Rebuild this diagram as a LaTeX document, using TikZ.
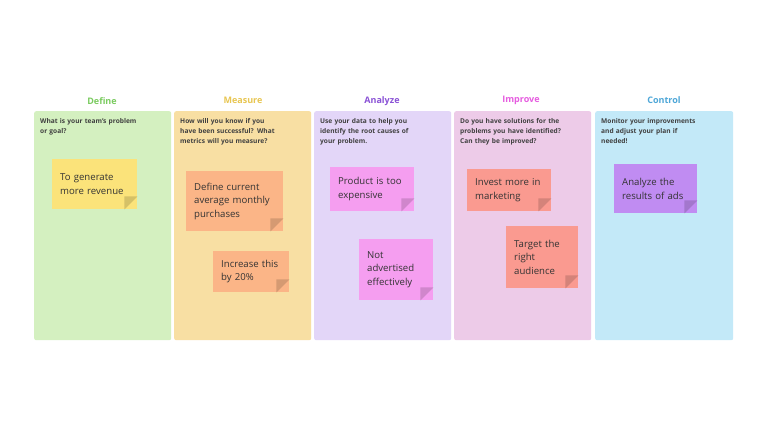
\documentclass[tikz,border=0pt]{standalone}
\usepackage{fontspec}
\setmainfont{Open Sans}
\usetikzlibrary{calc}
\definecolor{defc}{HTML}{D4F0C0}
\definecolor{meac}{HTML}{F8DFA3}
\definecolor{anac}{HTML}{E3D6F8}
\definecolor{impc}{HTML}{EDCBE8}
\definecolor{conc}{HTML}{C3E9F8}
\definecolor{deft}{HTML}{7ACB5F}
\definecolor{meat}{HTML}{E8C652}
\definecolor{anat}{HTML}{8A52D6}
\definecolor{impt}{HTML}{E65CE0}
\definecolor{cont}{HTML}{4EA7D8}
\definecolor{yel}{HTML}{FBE37A}
\definecolor{ora}{HTML}{FBB587}
\definecolor{pin}{HTML}{F59EF0}
\definecolor{sal}{HTML}{FA9A90}
\definecolor{pur}{HTML}{C08CF2}
\tikzset{
  column/.style   = {anchor=north west,rounded corners=2pt,minimum width=137pt,minimum height=229pt,inner sep=0pt},
  title/.style    = {font=\fontsize{9}{10}\selectfont\bfseries},
  question/.style = {anchor=north west,align=left,text width=112pt,font=\fontsize{6.6}{10}\selectfont\bfseries,execute at begin node={\hyphenpenalty=10000\relax},text=black!75,inner sep=0pt},
  sticky/.style   = {anchor=north west,align=left,font=\fontsize{9.6}{13.5}\selectfont,execute at begin node={\hyphenpenalty=10000\relax},text=black!80,inner xsep=8pt,inner ysep=0pt},
}
\begin{document}
\begin{tikzpicture}[x=1pt,y=-1pt]
\useasboundingbox[fill=white] (0,0) rectangle (768,432);
% columns
\node[column,fill=defc] (define)  at (34,111) {};
\node[column,fill=meac] (measure) at (174,111) {};
\node[column,fill=anac] (analyze) at (314,111) {};
\node[column,fill=impc] (improve) at (454,111) {};
\node[column,fill=conc,minimum width=138pt] (control) at (595,111) {};
% titles
\node[title,text=deft] (tdefine)  at (102,101) {Define};
\node[title,text=meat] (tmeasure) at (243,100) {Measure};
\node[title,text=anat] (tanalyze) at (382,101) {Analyze};
\node[title,text=impt] (timprove) at (521,100) {Improve};
\node[title,text=cont] (tcontrol) at (664,100) {Control};
% questions
\node[question,text width=102pt] (qdefine)  at (40,118) {What is your team's problem or goal?};
\node[question] (qmeasure) at (180,118) {How will you know if you\\have been successful? What\\metrics will you measure?};
\node[question,text width=98pt] (qanalyze) at (320,118) {Use your data to help you identify the root causes of your problem.};
\node[question] (qimprove) at (460,118) {Do you have solutions for the problems you have identified? Can they be improved?};
\node[question,text width=104pt] (qcontrol) at (601,118) {Monitor your improvements and adjust your plan if needed!};
% stickies
\node[sticky,fill=yel,text width=69pt,minimum height=50pt] (revenue)  at (52,159) {To generate more revenue};
\node[sticky,fill=ora,text width=81pt,minimum height=60pt] (define2)  at (186,171) {Define current average monthly purchases};
\node[sticky,fill=ora,text width=60pt,minimum height=41pt] (increase) at (213,251) {Increase this by 20\%};
\node[sticky,fill=pin,text width=68pt,minimum height=44pt] (expens)   at (330,167) {Product is too expensive};
\node[sticky,fill=pin,text width=58pt,minimum height=61pt] (advert)   at (359,239) {Not advertised effectively};
\node[sticky,fill=sal,text width=68pt,minimum height=42pt] (invest)   at (467,169) {Invest more in marketing};
\node[sticky,fill=sal,text width=56pt,minimum height=62pt] (target)   at (506,226) {Target the\\right\\audience};
\node[sticky,fill=pur,text width=67pt,minimum height=49pt] (results)  at (614,164) {Analyze the results of ads};
% folded corners
\foreach \n in {revenue,define2,increase,expens,advert,invest,target,results}
  \fill[black,opacity=0.15] ($(\n.south east)+(-13,0)$) -- ($(\n.south east)+(0,-13)$) -- ($(\n.south east)+(-13,-13)$) -- cycle;
\end{tikzpicture}
\end{document}
